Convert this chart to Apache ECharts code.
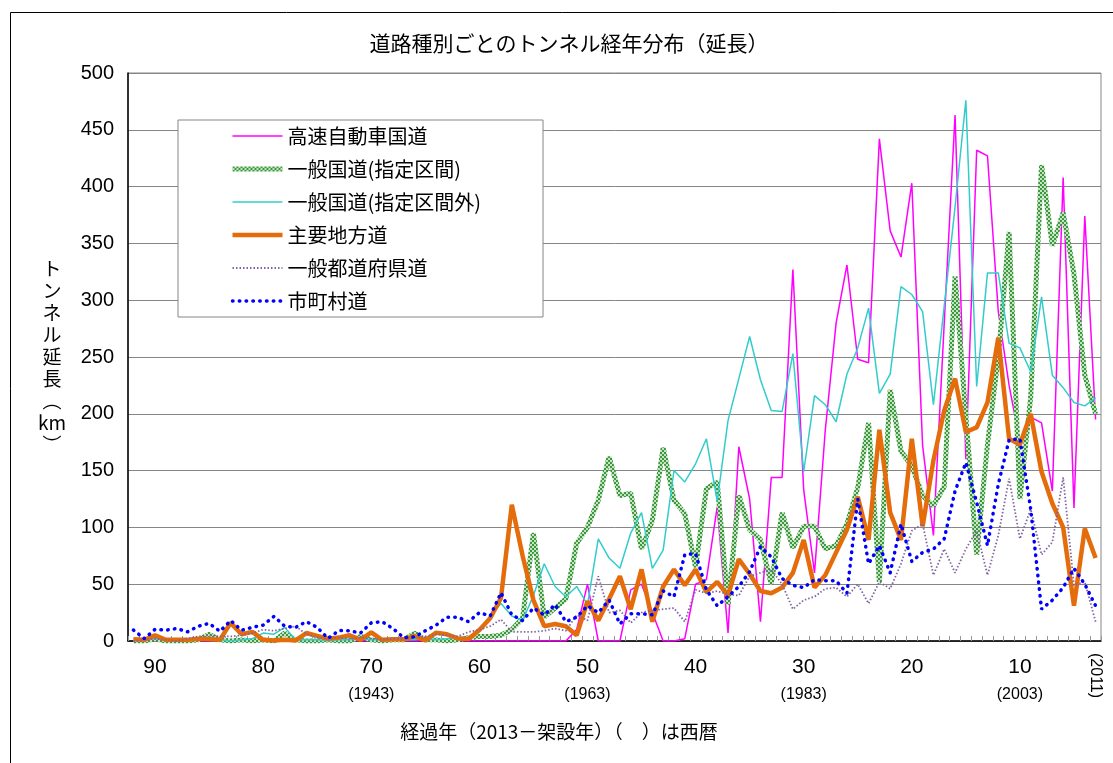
<!DOCTYPE html>
<html>
<head>
<meta charset="utf-8">
<title>道路種別ごとのトンネル経年分布(延長)</title>
<script src="https://cdn.jsdelivr.net/npm/echarts/dist/echarts.min.js"></script>
<style>
  html, body { margin: 0; padding: 0; background: #fff; }
  #chart { width: 1113px; height: 763px; }
</style>
</head>
<body>
<div id="chart"></div>
<script>
// 経過年 (2013 - 架設年), 左から右へ
var elapsed = [92, 91, 90, 89, 88, 87, 86, 85, 84, 83,
  82, 81, 80, 79, 78, 77, 76, 75, 74, 73,
  72, 71, 70, 69, 68, 67, 66, 65, 64, 63,
  62, 61, 60, 59, 58, 57, 56, 55, 54, 53,
  52, 51, 50, 49, 48, 47, 46, 45, 44, 43,
  42, 41, 40, 39, 38, 37, 36, 35, 34, 33,
  32, 31, 30, 29, 28, 27, 26, 25, 24, 23,
  22, 21, 20, 19, 18, 17, 16, 15, 14, 13,
  12, 11, 10, 9, 8, 7, 6, 5, 4, 3];

// 西暦の補助ラベル
var westernAt = [70, 50, 30, 10];
var westernYears = ['(1943)', '(1963)', '(1983)', '(2003)'];
var lastYearLabel = '(2011)';

var seriesNames = ['高速自動車国道', '一般国道(指定区間)', '一般国道(指定区間外)',
  '主要地方道', '一般都道府県道', '市町村道'];

// トンネル延長 (km)
var expressway = [0, 0, 0, 0, 0, 0, 0, 0, 0, 0,
  0, 0, 0, 0, 0, 0, 0, 0, 0, 0,
  0, 0, 0, 0, 0, 0, 0, 0, 0, 0,
  0, 0, 0, 0, 0, 0, 0, 0, 0, 0,
  0, 10, 50, 0, 0, 0, 45, 50, 25, 0,
  0, 2, 50, 54, 118, 7, 171, 125, 17, 144,
  144, 327, 133, 60, 186, 280, 331, 248, 245, 442,
  361, 338, 403, 172, 93, 280, 463, 160, 432, 427,
  290, 225, 175, 197, 192, 132, 408, 117, 374, 195];

var nationalDesignated = [0, 0, 2, 0, 0, 0, 1, 6, 1, 0,
  1, 0, 1, 0, 7, 1, 0, 0, 1, 0,
  0, 4, 1, 0, 1, 1, 7, 1, 1, 0,
  1, 3, 4, 4, 5, 10, 20, 95, 21, 29,
  37, 86, 100, 124, 162, 128, 130, 81, 106, 170,
  124, 112, 65, 134, 140, 32, 128, 98, 89, 50,
  113, 82, 101, 101, 81, 84, 103, 135, 192, 52,
  221, 167, 154, 128, 119, 136, 321, 198, 76, 173,
  250, 360, 125, 215, 419, 348, 377, 323, 234, 200];

var nationalOther = [0, 1, 2, 1, 0, 1, 2, 3, 1, 0,
  1, 2, 7, 6, 12, 1, 1, 1, 0, 1,
  1, 2, 1, 1, 2, 1, 1, 2, 1, 2,
  3, 3, 10, 22, 33, 22, 18, 40, 68, 48,
  39, 48, 32, 90, 73, 64, 95, 113, 64, 80,
  150, 140, 156, 178, 123, 194, 231, 268, 230, 203,
  202, 253, 149, 216, 208, 193, 235, 258, 293, 218,
  235, 312, 305, 290, 208, 295, 382, 476, 224, 324,
  324, 262, 258, 237, 303, 234, 223, 210, 207, 214];

var mainLocal = [1.5, 1, 5, 1, 1, 1, 2, 1.5, 1, 16,
  6, 8, 1, 0.5, 1, 0.5, 7, 4.5, 2, 3,
  5, 1, 7.5, 1, 1.5, 1.5, 4.4, 0.6, 7.3, 5.9,
  2.3, 1.8, 9.7, 20, 38, 120, 75, 36, 13, 15,
  13, 5, 35, 18, 37, 57, 28, 63, 17, 48,
  63, 49, 63, 43, 52, 40, 72, 59, 44, 42,
  47, 60, 89, 47, 58, 78, 98, 127, 89, 186,
  113, 89, 178, 101, 159, 203, 231, 184, 188, 210,
  267, 178, 173, 200, 149, 121, 100, 31, 99, 73];

var prefectural = [0, 1, 2, 1, 0, 2, 4, 5, 4, 4,
  5, 7, 10, 9, 11, 13, 6, 3, 2, 3,
  2, 3, 2, 1, 2, 2, 3, 4, 6, 5,
  4, 8, 10, 13, 19, 8, 8, 8, 9, 11,
  9, 23, 18, 57, 25, 27, 16, 25, 27, 28,
  29, 17, 45, 42, 44, 41, 40, 57, 60, 63,
  50, 28, 36, 39, 46, 47, 39, 50, 33, 52,
  46, 68, 97, 103, 58, 81, 60, 81, 97, 58,
  93, 143, 90, 116, 76, 87, 144, 49, 52, 17];

var municipal = [9.7, 2.1, 10.3, 9.5, 11, 8, 13, 15.5, 8.5, 18,
  9.5, 12, 14, 21.7, 13, 12, 17, 12, 2.3, 9.2,
  9, 7, 16, 17, 11, 3, 3.5, 9, 14, 21,
  21, 17, 25, 22, 42.5, 23, 18, 29, 23, 32,
  17, 21, 31, 25, 36, 15, 24, 24, 23, 44,
  39, 76, 77, 45, 31, 39, 48, 61, 83, 74,
  55, 49, 47, 54, 53, 53, 42, 125, 68, 84,
  60, 103, 70, 78, 81, 90, 132, 157, 122, 84,
  138, 177, 178, 116, 28, 36, 47, 64, 50, 31];

var cjk = '"Noto Sans CJK JP", sans-serif';
var narrow = '"Liberation Sans Narrow", "Liberation Sans", sans-serif';

// 指定区間の網掛け風の線
function greenPattern() {
  var c = document.createElement('canvas');
  c.width = 4;
  c.height = 4;
  var g = c.getContext('2d');
  g.fillStyle = '#c4e4c4';
  g.fillRect(0, 0, 4, 4);
  g.fillStyle = '#3d983d';
  g.fillRect(0, 0, 2, 2);
  g.fillRect(2, 2, 2, 2);
  return c;
}

function lineSeries(name, data, lineStyle) {
  return {
    name: name,
    type: 'line',
    data: data,
    symbol: 'none',
    lineStyle: lineStyle,
    itemStyle: { color: lineStyle.color },
    emphasis: { disabled: true }
  };
}

var chart = echarts.init(document.getElementById('chart'), null, { renderer: 'canvas' });

chart.setOption({
  animation: false,
  backgroundColor: '#fff',
  title: [{
    text: '道路種別ごとのトンネル経年分布（延長）',
    left: 564,
    top: 28,
    textAlign: 'center',
    textStyle: { fontFamily: cjk, fontSize: 21, fontWeight: 'normal', color: '#000' }
  }, {
    text: '経過年（2013－架設年）（　）は西暦',
    left: 554,
    top: 717,
    textAlign: 'center',
    textStyle: { fontFamily: cjk, fontSize: 19, fontWeight: 'normal', color: '#000' }
  }],
  graphic: [{
    type: 'rect',
    left: 8,
    top: 10,
    silent: true,
    shape: { width: 1200, height: 800 },
    style: { fill: 'none', stroke: '#000', lineWidth: 1 }
  }],
  legend: {
    orient: 'vertical',
    left: 178,
    top: 120,
    itemWidth: 50,
    itemHeight: 14,
    itemGap: 13,
    padding: [6, 62, 6, 52],
    backgroundColor: '#fff',
    borderColor: '#868686',
    borderWidth: 1,
    borderRadius: 0,
    itemStyle: { opacity: 0 },
    lineStyle: { width: 'inherit' },
    textStyle: { fontFamily: cjk, fontSize: 20, lineHeight: 20, color: '#000' },
    data: seriesNames
  },
  grid: {
    left: 128,
    right: 12,
    top: 73,
    bottom: 122,
    show: true,
    borderColor: '#868686',
    borderWidth: 1
  },
  xAxis: [{
    type: 'category',
    data: elapsed,
    boundaryGap: true,
    position: 'bottom',
    axisLine: { lineStyle: { color: '#000', width: 1.5 } },
    axisTick: { show: true, inside: true, length: 5, interval: 0, lineStyle: { color: '#999' } },
    splitLine: { show: false },
    axisLabel: {
      interval: 0,
      margin: 16,
      color: '#000',
      formatter: function (v) {
        var e = Number(v);
        if (e % 10 !== 0) return '';
        var k = westernAt.indexOf(e);
        return k >= 0 ? '{n|' + e + '}\n{w|' + westernYears[k] + '}' : '{n|' + e + '}';
      },
      rich: {
        n: { fontFamily: narrow, fontSize: 21, lineHeight: 20, color: '#000' },
        w: { fontFamily: narrow, fontSize: 16, lineHeight: 36, color: '#000' }
      }
    }
  }, {
    type: 'category',
    data: elapsed,
    boundaryGap: true,
    position: 'bottom',
    axisLine: { show: false },
    axisTick: { show: false },
    splitLine: { show: false },
    axisLabel: {
      interval: 0,
      rotate: -90,
      margin: 12,
      fontFamily: narrow,
      fontSize: 16,
      color: '#000',
      formatter: function (v, idx) {
        return idx === elapsed.length - 1 ? lastYearLabel : '';
      }
    }
  }],
  yAxis: {
    type: 'value',
    min: 0,
    max: 500,
    interval: 50,
    name: 'ト\nン\nネ\nル\n延\n長\n︵\nkm\n︶',
    nameLocation: 'middle',
    nameRotate: 0,
    nameGap: 76,
    nameTextStyle: {
      fontFamily: cjk, fontSize: 19, lineHeight: 22, color: '#000',
      align: 'center', verticalAlign: 'middle'
    },
    axisLine: { show: true, lineStyle: { color: '#000', width: 1.5 } },
    axisTick: { show: false },
    axisLabel: { fontFamily: narrow, fontSize: 20, color: '#000', margin: 14 },
    splitLine: { show: true, lineStyle: { color: '#868686', width: 1 } }
  },
  series: [
    lineSeries(seriesNames[0], expressway, { color: '#FF00FF', width: 1.5 }),
    lineSeries(seriesNames[1], nationalDesignated, {
      color: { image: greenPattern(), repeat: 'repeat' }, width: 5
    }),
    lineSeries(seriesNames[2], nationalOther, { color: '#33CCCC', width: 1.5 }),
    lineSeries(seriesNames[3], mainLocal, { color: '#E46C0A', width: 4.5 }),
    lineSeries(seriesNames[4], prefectural, { color: '#8064A2', width: 1.8, type: [1.5, 2] }),
    lineSeries(seriesNames[5], municipal, { color: '#0000FF', width: 3.5, type: [0.5, 6.3], cap: 'round' })
  ]
});
</script>
</body>
</html>
